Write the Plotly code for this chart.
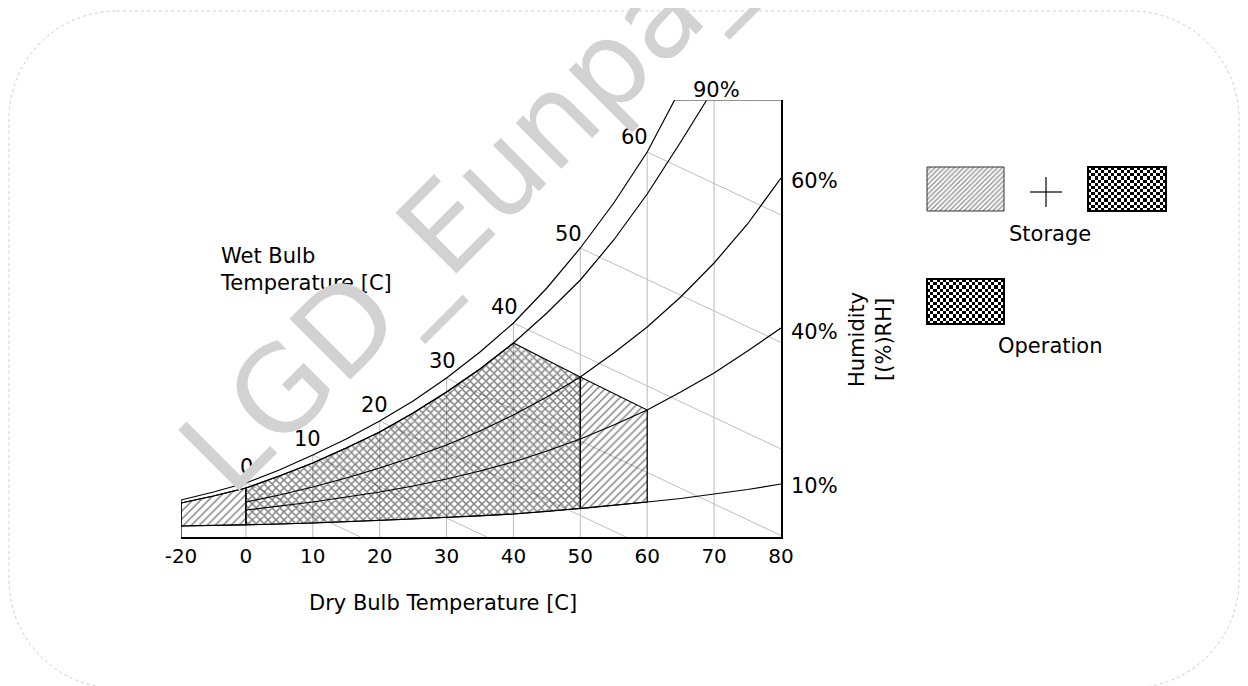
import plotly.graph_objects as go

W, H = 1248, 686
OFF = 8  # page offset of the figure inside the browser window

# ---------------- data ----------------
# humidity ratio is in arbitrary chart units (0 = bottom axis, 437 = top of chart)
T_sat = [-20, -10, 0, 5, 10, 15, 20, 25, 30, 35, 40, 45, 50, 55, 60, 62, 64.1]
W_sat = [37, 45, 54, 67, 82, 98, 116, 136, 159, 185, 214, 249, 289, 334, 385, 410, 437]

T_rh90 = [-20, -10, 0, 5, 10, 15, 20, 25, 30, 35, 40, 45, 50, 55, 60, 65, 68.9]
W_rh90 = [34, 41, 49, 61, 74, 89, 105, 124, 145, 168, 194, 224, 257, 297, 343, 395, 437]

T_rh = [0, 5, 10, 15, 20, 25, 30, 35, 40, 45, 50, 55, 60, 65, 70, 75, 80]
W_rh60 = [35, 42, 50, 59, 69, 80, 92, 106, 122, 140, 160, 184, 210, 240, 274, 313, 359]
W_rh40 = [27, 31, 35, 40, 45, 51, 58, 66, 75, 86, 98, 112, 127, 145, 164, 186, 209]

T_rh10 = [-20, -10, 0, 5, 10, 15, 20, 25, 30, 35, 40, 45, 50, 55, 60, 65, 70, 75, 80]
W_rh10 = [11, 11.5, 12, 13, 14, 15, 16.5, 18, 19.5, 21, 23, 25.5, 28.5, 31.5, 35, 38.5, 43, 47.5, 53]

W_TOP = 437                      # top of the chart
WB_T = [0, 10, 20, 30, 40, 50, 60]   # wet-bulb temperatures labelled on saturation line
WB_SLOPE = 3.15                  # wet-bulb line drop per degC (chart units)
GRID_T = [0, 10, 20, 30, 40, 50, 60, 70]

TICK_T = [-20, 0, 10, 20, 30, 40, 50, 60, 70, 80]
RH_LABELS = ["90%", "60%", "40%", "10%"]

# sub-zero part of the dry-bulb axis is compressed in the original chart
NEG_SCALE = 0.485


def xpos(t):
    return t if t >= 0 else t * NEG_SCALE


def xs(ts):
    return [xpos(t) for t in ts]


def at(ts, ws, t):
    return ws[ts.index(t)]


FONT = dict(family="DejaVu Sans", size=21, color="black")
GRAY = "#bdbdbd"

fig = go.Figure()

# ---------------- gray grid: verticals and wet-bulb lines ----------------
for t in GRID_T:
    top = at(T_sat, W_sat, t) if t in T_sat else W_TOP
    fig.add_trace(go.Scatter(x=[xpos(t), xpos(t)], y=[0, top], mode="lines",
                             line=dict(color=GRAY, width=1), hoverinfo="skip"))
for t in WB_T:
    y0 = at(T_sat, W_sat, t)
    t1 = t + y0 / WB_SLOPE
    fig.add_trace(go.Scatter(x=[xpos(t), xpos(t1)], y=[y0, 0], mode="lines",
                             line=dict(color=GRAY, width=1), hoverinfo="skip"))

# ---------------- regions ----------------
i0_90, i40_90 = T_rh90.index(0), T_rh90.index(40)
i0_10, i50_10, i60_10 = T_rh10.index(0), T_rh10.index(50), T_rh10.index(60)

op_T = T_rh90[i0_90:i40_90 + 1] + [50, 50] + T_rh10[i0_10:i50_10 + 1][::-1]
op_W = (W_rh90[i0_90:i40_90 + 1] + [at(T_rh, W_rh60, 50), at(T_rh10, W_rh10, 50)]
        + W_rh10[i0_10:i50_10 + 1][::-1])

stL_T = T_rh90[:i0_90 + 1] + T_rh10[:i0_10 + 1][::-1]
stL_W = W_rh90[:i0_90 + 1] + W_rh10[:i0_10 + 1][::-1]

stR_T = [50, 60] + T_rh10[i50_10:i60_10 + 1][::-1]
stR_W = [at(T_rh, W_rh60, 50), at(T_rh, W_rh40, 60)] + W_rh10[i50_10:i60_10 + 1][::-1]

hatch = dict(shape="/", fgcolor="black", bgcolor="rgba(0,0,0,0)", size=5.6, solidity=0.25)
cross = dict(shape="x", fgcolor="black", bgcolor="rgba(0,0,0,0)", size=5.6, solidity=0.46)
for tt, ww, pat in [(stL_T + [stL_T[0]], stL_W + [stL_W[0]], hatch),
                    (stR_T + [stR_T[0]], stR_W + [stR_W[0]], hatch),
                    (op_T + [op_T[0]], op_W + [op_W[0]], cross)]:
    fig.add_trace(go.Scatter(x=xs(tt), y=ww, mode="lines", fill="toself",
                             fillcolor="rgba(0,0,0,0)", fillpattern=pat,
                             line=dict(color="black", width=1.2), hoverinfo="skip"))

# ---------------- curves ----------------
for tt, ww in [(T_sat, W_sat), (T_rh90, W_rh90), (T_rh, W_rh60), (T_rh, W_rh40), (T_rh10, W_rh10)]:
    fig.add_trace(go.Scatter(x=xs(tt), y=ww, mode="lines",
                             line=dict(color="black", width=1.2), hoverinfo="skip"))

# frame pieces
fig.add_trace(go.Scatter(x=[xpos(-20), xpos(-20)], y=[0, W_sat[0]], mode="lines",
                         line=dict(color="black", width=1.3), hoverinfo="skip"))
fig.add_trace(go.Scatter(x=[T_sat[-1], 80], y=[W_TOP, W_TOP], mode="lines",
                         line=dict(color="#6e6e6e", width=1.6), hoverinfo="skip"))

# ---------------- legend swatches (screen-pixel axes) ----------------
def checker(x0, y0, w, h, cell):
    nx, ny = int(round(w / cell)), int(round(h / cell))
    z = [[(i + j) % 2 for j in range(nx)] for i in range(ny)]
    return go.Heatmap(z=z, x0=x0 + w / nx / 2, dx=w / nx, y0=y0 + h / ny / 2, dy=h / ny,
                      colorscale=[[0, "white"], [1, "black"]], showscale=False,
                      zsmooth=False, hoverinfo="skip", xaxis="x2", yaxis="y2")


fig.add_trace(checker(1088, 167, 78, 44, 3.2))
fig.add_trace(checker(927, 279, 77, 45, 3.2))
fig.add_trace(go.Scatter(x=[927, 1004, 1004, 927, 927], y=[167, 167, 211, 211, 167],
                         mode="lines", fill="toself", fillcolor="rgba(0,0,0,0)",
                         fillpattern=dict(shape="/", fgcolor="#333", bgcolor="white",
                                          size=3.4, solidity=0.45),
                         line=dict(color="#333", width=1), xaxis="x2", yaxis="y2",
                         hoverinfo="skip"))

shapes = []
for (x0, y0, x1, y1) in [(1088, 167, 1166, 211), (927, 279, 1004, 324)]:
    shapes.append(dict(type="rect", xref="x2", yref="y2", x0=x0, y0=y0, x1=x1, y1=y1,
                       line=dict(color="black", width=2)))
shapes.append(dict(type="line", xref="x2", yref="y2", x0=1030, x1=1062, y0=192, y1=192,
                   line=dict(color="black", width=1.2)))
shapes.append(dict(type="line", xref="x2", yref="y2", x0=1046, x1=1046, y0=177, y1=207,
                   line=dict(color="black", width=1.2)))

# rounded outer border
L, T, R, B, r = 9, 11, 1239, 688, 108
k = 0.5523 * r
path = (f"M{L + r},{T} L{R - r},{T} C{R - r + k},{T} {R},{T + r - k} {R},{T + r} "
        f"L{R},{B - r} C{R},{B - r + k} {R - r + k},{B} {R - r},{B} "
        f"L{L + r},{B} C{L + r - k},{B} {L},{B - r + k} {L},{B - r} "
        f"L{L},{T + r} C{L},{T + r - k} {L + r - k},{T} {L + r},{T} Z")
shapes.append(dict(type="path", xref="x2", yref="y2", path=path,
                   line=dict(color="#cfcfcf", width=1, dash="dot"), layer="below"))

# ---------------- annotations ----------------
ann = []
wb_shift = {0: (1, 16), 10: (-5, 16), 20: (-5, 16), 30: (-4, 17), 40: (-9, 16), 50: (-12, 14), 60: (-13, 15)}
for t in WB_T:
    dx, dy = wb_shift[t]
    ann.append(dict(text=str(t), x=xpos(t), y=at(T_sat, W_sat, t), xref="x", yref="y",
                    showarrow=False, font=FONT, xshift=dx, yshift=dy))

ann.append(dict(text=RH_LABELS[0], x=70, y=W_TOP, xref="x", yref="y", showarrow=False,
                font=FONT, xshift=2, yshift=10))
for lab, ww, dy in [(RH_LABELS[1], W_rh60, -3), (RH_LABELS[2], W_rh40, -4), (RH_LABELS[3], W_rh10, -2)]:
    ann.append(dict(text=lab, x=80, y=ww[-1], xref="x", yref="y", showarrow=False,
                    font=FONT, xanchor="left", xshift=8, yshift=dy))


def pann(text, x, y, **kw):
    d = dict(text=text, x=x, y=y, xref="x2", yref="y2", showarrow=False, font=FONT)
    d.update(kw)
    return d


ann.append(pann("Wet Bulb<br>Temperature [C]", 218, 269, xanchor="left", align="left"))
ann.append(pann("Dry Bulb Temperature [C]", 443, 603))
ann.append(pann("Humidity<br>[(%)RH]", 870, 340, textangle=-90))
ann.append(pann("Storage", 1050, 234))
ann.append(pann("Operation", 1050, 346))
# watermark (drawn last, on top)
ann.append(pann("LGD_Eunpa_", 463, 209, textangle=-45,
                font=dict(family="DejaVu Sans", size=118, color="#d2d2d2")))

fig.update_layout(
    width=W, height=H, margin=dict(l=0, r=0, t=0, b=0, pad=0, autoexpand=False),
    autosize=False,
    paper_bgcolor="white", plot_bgcolor="rgba(0,0,0,0)", showlegend=False,
    xaxis=dict(domain=[(181 - OFF) / W, (781 - OFF) / W], range=[xpos(-20), 80], anchor="y",
               tickvals=[xpos(t) for t in TICK_T], ticktext=[str(t) for t in TICK_T],
               tickfont=dict(family="DejaVu Sans", size=20, color="black"),
               ticks="", ticklabelstandoff=0, showgrid=False, zeroline=False,
               showline=True, linecolor="black", linewidth=1.5, fixedrange=True,
               automargin=False),
    yaxis=dict(domain=[1 - (537 - OFF) / H, 1 - (100 - OFF) / H], range=[0, W_TOP], anchor="x",
               side="right", showticklabels=False, ticks="", showgrid=False,
               zeroline=False, showline=True, linecolor="black", linewidth=1.5,
               fixedrange=True, automargin=False),
    # overlay axes in window-pixel units for legend swatches, labels and frame
    xaxis2=dict(domain=[0, 1], range=[OFF, W + OFF], anchor="y2", visible=False,
                fixedrange=True, automargin=False),
    yaxis2=dict(domain=[0, 1], range=[H + OFF, OFF], anchor="x2", visible=False,
                fixedrange=True, automargin=False),
    shapes=shapes, annotations=ann,
)

fig.write_html("out.html")
